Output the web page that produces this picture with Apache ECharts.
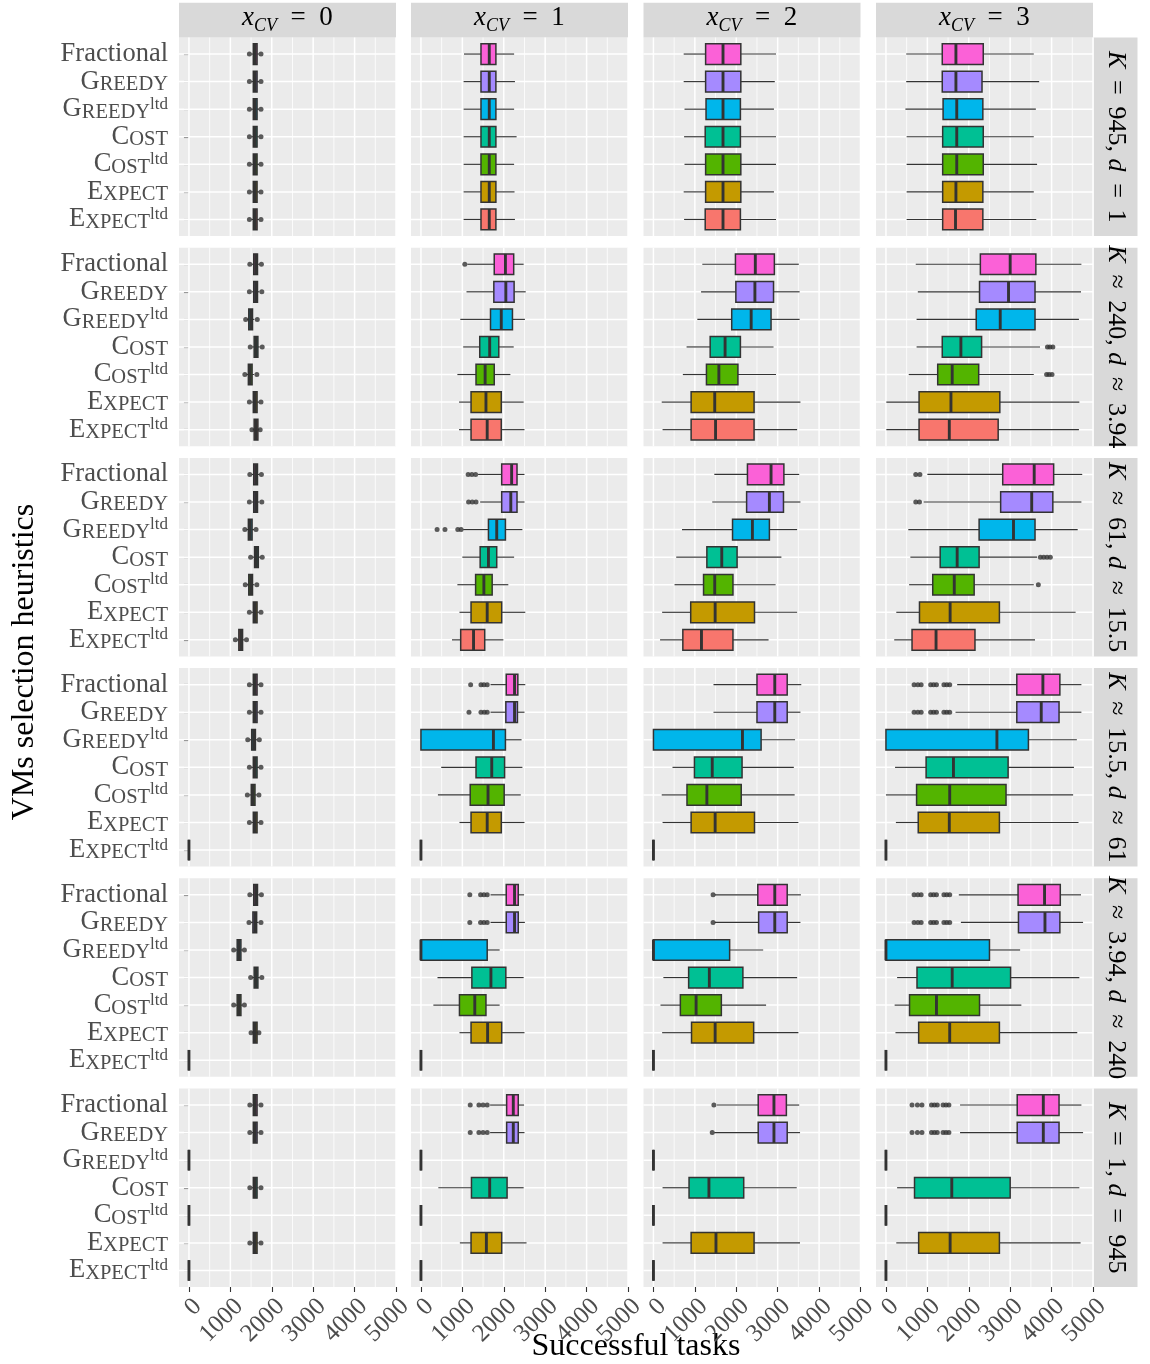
<!DOCTYPE html>
<html><head><meta charset="utf-8">
<script src="https://cdn.jsdelivr.net/npm/echarts@6/dist/echarts.min.js"></script>
<style>html,body{margin:0;padding:0;background:#fff}#c{width:1150px;height:1364px}</style>
</head><body><div id="c"></div>
<script>
// ---------------- data ----------------
const heuristics = ['Fractional','Greedy','Greedy^ltd','Cost','Cost^ltd','Expect','Expect^ltd'];
const colStrips = ['0','1','2','3'];           // x_CV values
const rowStrips = [                              // [rel, K, rel, d]
  ['=','945','=','1'],
  ['\u2248','240','\u2248','3.94'],
  ['\u2248','61','\u2248','15.5'],
  ['\u2248','15.5','\u2248','61'],
  ['\u2248','3.94','\u2248','240'],
  ['=','1','=','945']
];
const xTicks = [0,1000,2000,3000,4000,5000];
const xMinor = [500,1500,2500,3500,4500];
const xTitle = 'Successful tasks';
const yTitle = 'VMs selection heuristics';
const fillColors = ['#FB61D7','#A58AFF','#00B6EB','#00C094','#53B400','#C49A00','#F8766D'];

// boxes: [lower whisker, Q1, median, Q3, upper whisker], heuristics top to bottom
// outliers: [heuristic index, value]
// ---- K = 945, d = 1 ----
const r1c0 = [[1510,1555,1600,1645,1690],[1510,1555,1600,1645,1690],[1510,1555,1600,1645,1690],[1510,1555,1600,1645,1690],[1510,1555,1600,1645,1690],[1510,1555,1600,1645,1690],[1510,1555,1600,1645,1690]];
const o1c0 = [[0,1460],[0,1740],[1,1460],[1,1740],[2,1460],[2,1740],[3,1460],[3,1740],[4,1460],[4,1740],[5,1460],[5,1740],[6,1460],[6,1740]];
const r1c1 = [[1040,1450,1650,1810,2250],[1030,1450,1650,1810,2270],[1030,1450,1650,1810,2250],[1030,1450,1650,1810,2310],[1030,1450,1650,1810,2250],[1030,1450,1650,1810,2260],[1030,1450,1650,1810,2270]];
const o1c1 = [];
const r1c2 = [[730,1260,1680,2110,2960],[730,1260,1680,2110,2930],[750,1270,1680,2100,2910],[740,1250,1680,2100,2960],[750,1260,1680,2110,2960],[730,1260,1680,2110,2910],[740,1250,1680,2100,2960]];
const o1c2 = [];
const r1c3 = [[490,1360,1690,2350,3570],[490,1360,1690,2320,3700],[470,1380,1710,2340,3620],[500,1370,1710,2350,3570],[500,1370,1710,2350,3650],[500,1370,1690,2340,3570],[500,1370,1680,2340,3630]];
const o1c3 = [];
// ---- K ~ 240, d ~ 3.94 ----
const r2c0 = [[1520,1565,1610,1655,1700],[1520,1565,1610,1655,1700],[1400,1445,1490,1535,1580],[1530,1575,1620,1665,1710],[1390,1435,1480,1525,1570],[1510,1555,1600,1645,1690],[1540,1575,1620,1665,1700]];
const o2c0 = [[0,1470],[0,1750],[1,1460],[1,1760],[2,1370],[2,1650],[3,1480],[3,1770],[4,1350],[4,1640],[5,1460],[5,1740],[6,1520],[6,1720]];
const r2c1 = [[1120,1770,2040,2240,2480],[1100,1760,2050,2250,2530],[950,1680,1940,2210,2510],[1020,1420,1660,1880,2240],[880,1330,1550,1770,2160],[920,1210,1570,1940,2480],[920,1210,1600,1940,2500]];
const o2c1 = [[0,1060]];
const r2c2 = [[1180,1980,2460,2920,3510],[1150,1990,2450,2900,3530],[1060,1890,2360,2840,3530],[800,1370,1730,2100,2900],[710,1280,1580,2040,2960],[200,910,1480,2430,3550],[220,910,1500,2430,3470]];
const o2c2 = [];
const r2c3 = [[720,2280,3000,3620,4720],[770,2260,2960,3600,4710],[740,2180,2760,3600,4660],[740,1360,1810,2310,3720],[550,1250,1600,2240,3570],[10,800,1570,2750,4670],[10,800,1530,2710,4660]];
const o2c3 = [[3,3900],[3,3960],[3,4030],[4,3880],[4,3940],[4,4010]];
// ---- K ~ 61, d ~ 15.5 ----
const r3c0 = [[1520,1565,1610,1655,1700],[1520,1565,1610,1655,1700],[1390,1435,1480,1525,1570],[1540,1585,1630,1675,1720],[1400,1445,1490,1535,1580],[1510,1555,1600,1645,1690],[1160,1205,1250,1295,1340]];
const o3c0 = [[0,1470],[0,1750],[1,1460],[1,1760],[2,1350],[2,1620],[3,1490],[3,1770],[4,1360],[4,1640],[5,1460],[5,1740],[6,1120],[6,1390]];
const r3c1 = [[1380,1950,2190,2320,2500],[1430,1950,2170,2320,2500],[1020,1630,1830,2040,2450],[1000,1430,1630,1830,2250],[880,1320,1520,1720,2110],[930,1210,1600,1950,2520],[750,960,1270,1540,1990]];
const o3c1 = [[0,1140],[0,1230],[0,1320],[1,1150],[1,1240],[1,1330],[2,390],[2,580],[2,890],[2,970]];
const r3c2 = [[1470,2270,2840,3150,3520],[1420,2250,2800,3140,3550],[690,1910,2390,2800,3470],[550,1290,1650,2020,3090],[510,1210,1480,1920,2950],[210,900,1490,2440,3470],[160,710,1160,1920,2780]];
const o3c2 = [];
const r3c3 = [[1000,2820,3580,4050,4740],[910,2770,3520,4030,4720],[540,2250,3080,3600,4630],[590,1310,1720,2250,3650],[560,1130,1650,2130,3570],[250,810,1550,2740,4580],[200,630,1210,2150,3600]];
const o3c3 = [[0,720],[0,820],[1,720],[1,810],[3,3730],[3,3810],[3,3890],[3,3970],[4,3680]];
// ---- K ~ 15.5, d ~ 61 ----
const r4c0 = [[1510,1555,1600,1645,1690],[1510,1555,1600,1645,1690],[1470,1515,1560,1605,1650],[1510,1555,1600,1645,1690],[1460,1505,1550,1595,1640],[1510,1555,1600,1645,1690],[0,0,0,0,0]];
const o4c0 = [[0,1460],[0,1740],[1,1460],[1,1740],[2,1420],[2,1700],[3,1460],[3,1740],[4,1410],[4,1690],[5,1460],[5,1740]];
const r4c1 = [[1680,2060,2260,2340,2520],[1680,2050,2260,2330,2500],[0,0,1750,2040,2430],[490,1330,1710,2020,2450],[410,1190,1620,2010,2410],[930,1210,1600,1940,2500],[0,0,0,0,0]];
const o4c1 = [[0,1200],[0,1450],[0,1520],[0,1600],[1,1160],[1,1450],[1,1530],[1,1600]];
const r4c2 = [[1450,2500,2930,3230,3570],[1450,2500,2930,3230,3550],[0,0,2150,2600,3420],[460,990,1420,2140,3390],[200,810,1290,2120,3410],[220,910,1490,2440,3500],[0,0,0,0,0]];
const o4c2 = [];
const r4c3 = [[1720,3160,3790,4200,4720],[1680,3160,3750,4180,4720],[0,0,2680,3440,4610],[220,970,1630,2950,4540],[0,740,1540,2900,4520],[240,780,1530,2740,4650],[0,0,0,0,0]];
const o4c3 = [[0,680],[0,770],[0,850],[0,1080],[0,1150],[0,1220],[0,1400],[0,1470],[0,1540],[1,680],[1,770],[1,850],[1,1080],[1,1150],[1,1220],[1,1400],[1,1470],[1,1540]];
// ---- K ~ 3.94, d ~ 240 ----
const r5c0 = [[1520,1565,1610,1655,1700],[1500,1545,1590,1635,1680],[1130,1165,1210,1255,1290],[1530,1575,1620,1665,1710],[1130,1165,1210,1255,1290],[1530,1555,1600,1645,1670],[0,0,0,0,0]];
const o5c0 = [[0,1470],[0,1750],[1,1450],[1,1740],[2,1080],[2,1340],[3,1490],[3,1760],[4,1080],[4,1340],[5,1500],[5,1690]];
const r5c1 = [[1680,2060,2260,2350,2490],[1680,2060,2260,2350,2510],[0,0,0,1600,1900],[400,1230,1690,2050,2480],[300,930,1300,1570,1900],[930,1210,1610,1950,2500],[0,0,0,0,0]];
const o5c1 = [[0,1180],[0,1440],[0,1520],[0,1600],[1,1180],[1,1440],[1,1520],[1,1600]];
const r5c2 = [[1480,2520,2930,3230,3560],[1480,2540,2930,3230,3550],[0,0,0,1840,2650],[240,850,1350,2160,3470],[170,650,1030,1640,2720],[210,920,1490,2420,3500],[0,0,0,0,0]];
const o5c2 = [[0,1440],[1,1440]];
const r5c3 = [[1760,3190,3830,4210,4710],[1810,3200,3840,4200,4760],[0,0,0,2500,3240],[270,750,1600,3010,4670],[210,570,1220,2260,3270],[230,790,1540,2740,4620],[0,0,0,0,0]];
const o5c3 = [[0,680],[0,770],[0,850],[0,1080],[0,1150],[0,1220],[0,1400],[0,1470],[0,1540],[1,680],[1,770],[1,850],[1,1080],[1,1150],[1,1220],[1,1400],[1,1470],[1,1540]];
// ---- K = 1, d = 945 ----
const r6c0 = [[1520,1555,1600,1645,1680],[1520,1555,1600,1645,1680],[0,0,0,0,0],[1520,1555,1600,1645,1680],[0,0,0,0,0],[1520,1555,1600,1645,1680],[0,0,0,0,0]];
const o6c0 = [[0,1470],[0,1740],[1,1470],[1,1740],[3,1470],[3,1740],[5,1470],[5,1740]];
const r6c1 = [[1670,2070,2230,2350,2490],[1670,2070,2230,2350,2500],[0,0,0,0,0],[420,1220,1660,2080,2480],[0,0,0,0,0],[940,1210,1580,1950,2550],[0,0,0,0,0]];
const o6c1 = [[0,1190],[0,1400],[0,1500],[0,1600],[1,1190],[1,1400],[1,1500],[1,1600]];
const r6c2 = [[1530,2530,2910,3210,3520],[1470,2530,2910,3230,3540],[0,0,0,0,0],[220,860,1340,2180,3460],[0,0,0,0,0],[220,910,1510,2430,3540],[0,0,0,0,0]];
const o6c2 = [[0,1460],[1,1420]];
const r6c3 = [[1790,3170,3800,4180,4720],[1790,3170,3800,4180,4760],[0,0,0,0,0],[270,690,1590,3000,4670],[0,0,0,0,0],[250,790,1550,2740,4700],[0,0,0,0,0]];
const o6c3 = [[0,630],[0,760],[0,870],[0,1100],[0,1170],[0,1240],[0,1380],[0,1450],[0,1520],[1,630],[1,760],[1,870],[1,1100],[1,1170],[1,1240],[1,1380],[1,1450],[1,1520]];

const boxPanels = [[r1c0,r1c1,r1c2,r1c3],[r2c0,r2c1,r2c2,r2c3],[r3c0,r3c1,r3c2,r3c3],[r4c0,r4c1,r4c2,r4c3],[r5c0,r5c1,r5c2,r5c3],[r6c0,r6c1,r6c2,r6c3]];
const outPanels = [[o1c0,o1c1,o1c2,o1c3],[o2c0,o2c1,o2c2,o2c3],[o3c0,o3c1,o3c2,o3c3],[o4c0,o4c1,o4c2,o4c3],[o5c0,o5c1,o5c2,o5c3],[o6c0,o6c1,o6c2,o6c3]];

// ---------------- layout ----------------
const FONT = 'Liberation Serif';
const PANEL_LEFT = [179, 411, 643.5, 876];
const PANEL_W = 217;
const PANEL_TOP0 = 37.5, PANEL_STEP = 210.2, PANEL_H = 198.5;
const X_MIN = -240, X_MAX = 5000, Y_MIN = 0.4, Y_MAX = 7.6;
const catPos = heuristics.map((h, i) => i + 1);

function hLabel(name) {
  const [base, sup] = name.split('^');
  let s = base === 'Fractional' ? '{n|' + base + '}' : '{n|' + base[0] + '}{s|' + base.slice(1).toUpperCase() + '}';
  if (sup) s += '{p|' + sup + '}';
  return s;
}
const labelRich = {
  n: {fontFamily: FONT, fontSize: 26.5, color: '#4D4D4D', lineHeight: 27, verticalAlign: 'bottom'},
  s: {fontFamily: FONT, fontSize: 20.5, color: '#4D4D4D', lineHeight: 21, verticalAlign: 'bottom'},
  p: {fontFamily: FONT, fontSize: 17, color: '#4D4D4D', lineHeight: 17, verticalAlign: 'top'}
};
const stripRich = {
  i: {fontFamily: FONT, fontStyle: 'italic', fontSize: 27, color: '#1A1A1A', lineHeight: 27, verticalAlign: 'top'},
  n: {fontFamily: FONT, fontSize: 27, color: '#1A1A1A', lineHeight: 27, verticalAlign: 'top'},
  sub: {fontFamily: FONT, fontStyle: 'italic', fontSize: 18, color: '#1A1A1A', lineHeight: 18, verticalAlign: 'bottom'},
  g: {fontFamily: FONT, fontSize: 1, lineHeight: 31, verticalAlign: 'bottom'}
};
const rowRich = {
  i: {fontFamily: FONT, fontStyle: 'italic', fontSize: 26, color: '#1A1A1A'},
  n: {fontFamily: FONT, fontSize: 26, color: '#1A1A1A'}
};

function renderGrid(params, api) {
  const ch = [];
  xMinor.forEach(v => {
    const a = api.coord([v, Y_MIN]), b = api.coord([v, Y_MAX]);
    ch.push({type: 'line', shape: {x1: a[0], y1: a[1], x2: b[0], y2: b[1]}, style: {stroke: '#FFFFFF', lineWidth: 0.8}});
  });
  xTicks.forEach(v => {
    const a = api.coord([v, Y_MIN]), b = api.coord([v, Y_MAX]);
    ch.push({type: 'line', shape: {x1: a[0], y1: a[1], x2: b[0], y2: b[1]}, style: {stroke: '#FFFFFF', lineWidth: 1.5}});
  });
  catPos.forEach(k => {
    const a = api.coord([X_MIN, k]), b = api.coord([X_MAX, k]);
    ch.push({type: 'line', shape: {x1: a[0], y1: a[1], x2: b[0], y2: b[1]}, style: {stroke: '#FFFFFF', lineWidth: 1.5}});
  });
  return {type: 'group', children: ch};
}

function renderBox(params, api) {
  const y = api.value(0);
  const wl = api.value(1), q1 = api.value(2), md = api.value(3), q3 = api.value(4), wh = api.value(5);
  const ci = api.value(6);
  const yc = api.coord([md, y])[1];
  const ya = api.coord([md, y - 0.375])[1], yb = api.coord([md, y + 0.375])[1];
  const top = Math.min(ya, yb), h = Math.abs(yb - ya);
  const X = v => api.coord([v, y])[0];
  const xwl = X(wl), xq1 = X(q1), xmd = X(md), xq3 = X(q3), xwh = X(wh);
  const ln = {stroke: '#333333', lineWidth: 1.15};
  return {type: 'group', children: [
    {type: 'line', shape: {x1: xwl, y1: yc, x2: xq1, y2: yc}, style: ln},
    {type: 'line', shape: {x1: xq3, y1: yc, x2: xwh, y2: yc}, style: ln},
    {type: 'rect', shape: {x: xq1, y: top, width: xq3 - xq1, height: h}, style: {fill: fillColors[ci], stroke: '#333333', lineWidth: 1.5}},
    {type: 'line', shape: {x1: xmd, y1: top, x2: xmd, y2: top + h}, style: {stroke: '#333333', lineWidth: 2.9}}
  ]};
}

const grids = [], xAxes = [], yAxes = [], series = [], graphics = [];
for (let r = 0; r < 6; r++) {
  for (let c = 0; c < 4; c++) {
    const g = r * 4 + c;
    const top = PANEL_TOP0 + r * PANEL_STEP;
    grids.push({left: PANEL_LEFT[c], top: top, width: PANEL_W, height: PANEL_H, show: true,
      backgroundColor: '#EBEBEB', borderWidth: 0, containLabel: false, outerBoundsMode: 'none'});
    xAxes.push({gridIndex: g, type: 'value', min: X_MIN, max: X_MAX, show: r === 5,
      axisLine: {show: false}, splitLine: {show: false},
      axisTick: {show: true, length: 5, customValues: xTicks, lineStyle: {color: '#333333', width: 1.1}},
      axisLabel: {show: true, customValues: xTicks, rotate: 45, margin: 7, align: 'right', verticalAlign: 'top',
        formatter: v => String(v), fontFamily: FONT, fontSize: 25, color: '#4D4D4D'}});
    yAxes.push({gridIndex: g, type: 'value', min: Y_MIN, max: Y_MAX, inverse: true, show: c === 0,
      axisLine: {show: false}, splitLine: {show: false},
      axisTick: {show: true, length: 5, customValues: catPos, lineStyle: {color: '#333333', width: 1.1}},
      axisLabel: {show: true, customValues: catPos, margin: 11, formatter: v => hLabel(heuristics[Math.round(v) - 1]), rich: labelRich}});
    series.push({type: 'custom', xAxisIndex: g, yAxisIndex: g, z: 1, silent: true, clip: false,
      renderItem: renderGrid, data: [[0, 1]], encode: {x: 0, y: 1}});
    series.push({type: 'custom', xAxisIndex: g, yAxisIndex: g, z: 2, silent: true, clip: false,
      renderItem: renderBox, encode: {x: [1, 2, 3, 4, 5], y: 0},
      data: boxPanels[r][c].map((b, i) => [catPos[i], b[0], b[1], b[2], b[3], b[4], i])});
    series.push({type: 'scatter', xAxisIndex: g, yAxisIndex: g, z: 3, silent: true,
      symbol: 'circle', symbolSize: 5, itemStyle: {color: '#333333'},
      data: outPanels[r][c].map(o => [o[1], catPos[o[0]]])});
  }
}
// strips
colStrips.forEach((v, c) => {
  graphics.push({type: 'rect', shape: {x: PANEL_LEFT[c], y: 2.7, width: PANEL_W, height: 34.8}, style: {fill: '#D9D9D9'}, silent: true});
  graphics.push({type: 'text', x: PANEL_LEFT[c] + PANEL_W / 2, y: 20, silent: true,
    style: {text: '{i|x}{sub|CV}{n|  =  ' + v + '}{g| }', rich: stripRich, align: 'center', verticalAlign: 'middle'}});
});
const TS = '\u2009';
rowStrips.forEach((s, r) => {
  const top = PANEL_TOP0 + r * PANEL_STEP;
  graphics.push({type: 'rect', shape: {x: 1093.5, y: top, width: 44, height: PANEL_H}, style: {fill: '#D9D9D9'}, silent: true});
  graphics.push({type: 'text', x: 1116, y: top + PANEL_H / 2, rotation: -Math.PI / 2, silent: true,
    style: {text: '{i|K}{n|' + TS + ' ' + s[0] + ' ' + TS + s[1] + ', }{i|d}{n|' + TS + ' ' + s[2] + ' ' + TS + s[3] + '}',
      rich: rowRich, align: 'center', verticalAlign: 'middle'}});
});
graphics.push({type: 'text', x: 636, y: 1347, silent: true,
  style: {text: xTitle, fontFamily: FONT, fontSize: 32, fill: '#000000', align: 'center', verticalAlign: 'middle'}});
graphics.push({type: 'text', x: 25, y: 662, rotation: Math.PI / 2, silent: true,
  style: {text: yTitle, fontFamily: FONT, fontSize: 32, fill: '#000000', align: 'center', verticalAlign: 'middle'}});

const chart = echarts.init(document.getElementById('c'), null, {renderer: 'canvas'});
chart.setOption({
  animation: false,
  backgroundColor: '#FFFFFF',
  grid: grids, xAxis: xAxes, yAxis: yAxes, series: series, graphic: graphics
});
</script>
</body></html>
